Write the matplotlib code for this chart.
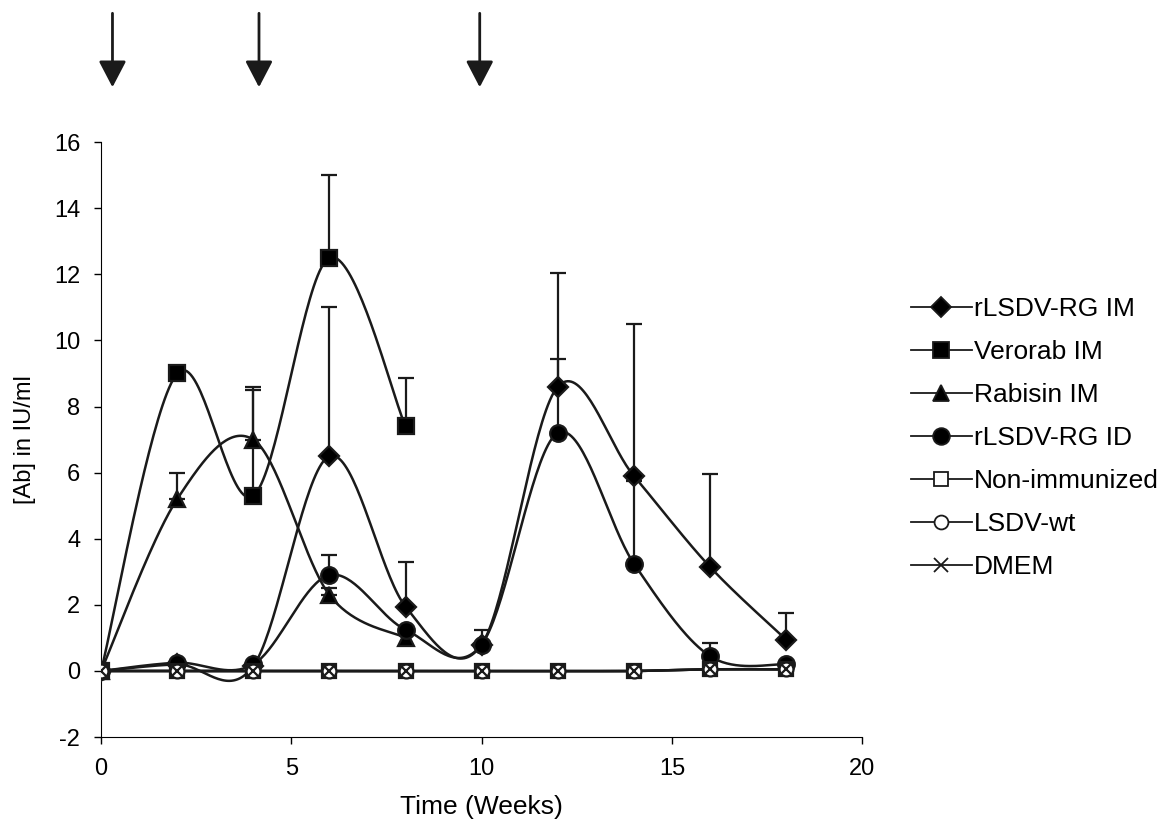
import numpy as np
import matplotlib.pyplot as plt
from matplotlib.patches import FancyArrowPatch

plt.rcParams["font.family"] = ["Liberation Sans", "DejaVu Sans"]
plt.rcParams["axes.unicode_minus"] = False

# Data (weeks vs antibody titre)
weeks = [0, 2, 4, 6, 8, 10, 12, 14, 16, 18]
weeks_short = [0, 2, 4, 6, 8]

rlsdv_im = [0, 0.2, 0.15, 6.5, 1.95, 0.8, 8.6, 5.9, 3.15, 0.95]
rlsdv_im_err = [0, 0, 0, 4.5, 1.35, 0, 3.45, 4.6, 2.8, 0.8]

verorab_im = [0, 9.0, 5.3, 12.5, 7.4]
verorab_im_err = [0, 0, 3.2, 2.5, 1.45]

rabisin_im = [0, 5.2, 7.0, 2.3, 1.0]
rabisin_im_err = [0, 0.8, 1.6, 0.2, 0]

rlsdv_id = [0, 0.25, 0.2, 2.9, 1.25, 0.8, 7.2, 3.25, 0.45, 0.2]
rlsdv_id_err = [0, 0, 0, 0.6, 0, 0.45, 2.25, 2.5, 0.4, 0]

non_immunized = [0, 0, 0, 0, 0, 0, 0, 0, 0.05, 0.05]
lsdv_wt = [0, 0, 0, 0, 0, 0, 0, 0, 0.05, 0.05]
dmem = [0, 0, 0, 0, 0, 0, 0, 0, 0.05, 0.05]

# immunization times (arrows above the plot)
boost_weeks = [0.3, 4.15, 9.95]


def smooth(x, y, n=40):
    """Catmull-Rom curve through the points (like Excel smoothed lines)."""
    p = np.column_stack([x, y]).astype(float)
    p = np.vstack([p[0], p, p[-1]])
    out = []
    t = np.linspace(0, 1, n)[:, None]
    for i in range(1, len(p) - 2):
        p0, p1, p2, p3 = p[i - 1], p[i], p[i + 1], p[i + 2]
        c1 = p1 + (p2 - p0) / 6
        c2 = p2 - (p3 - p1) / 6
        seg = ((1 - t) ** 3) * p1 + 3 * ((1 - t) ** 2) * t * c1 \
            + 3 * (1 - t) * t ** 2 * c2 + t ** 3 * p2
        out.append(seg)
    out = np.vstack(out)
    return out[:, 0], out[:, 1]


fig = plt.figure(figsize=(11.71, 8.31), dpi=100)
ax = fig.add_axes([0.0863, 0.113, 0.650, 0.716])

series = [
    ("rLSDV-RG IM", weeks, rlsdv_im, rlsdv_im_err, "D", "black", 10.5),
    ("Verorab IM", weeks_short, verorab_im, verorab_im_err, "s", "black", 11.5),
    ("Rabisin IM", weeks_short, rabisin_im, rabisin_im_err, "^", "black", 12),
    ("rLSDV-RG ID", weeks, rlsdv_id, rlsdv_id_err, "o", "black", 12),
    ("Non-immunized", weeks, non_immunized, None, "s", "white", 10.5),
    ("LSDV-wt", weeks, lsdv_wt, None, "o", "white", 10),
    ("DMEM", weeks, dmem, None, "x", "black", 10),
]

for label, x, y, err, marker, face, ms in series:
    xs, ys = smooth(x, y)
    ax.plot(xs, ys, color="#1a1a1a", lw=1.8, zorder=2)
    if err is not None:
        xe = [a for a, e in zip(x, err) if e > 0]
        ye = [b for b, e in zip(y, err) if e > 0]
        ee = [e for e in err if e > 0]
        ax.errorbar(xe, ye, yerr=[np.zeros(len(ee)), ee], fmt="none",
                    ecolor="#1a1a1a", elinewidth=1.6, capsize=6,
                    capthick=1.6, zorder=2)
    ax.plot(x, y, linestyle="none", marker=marker, ms=ms,
            markerfacecolor=face, markeredgecolor="#1a1a1a",
            markeredgewidth=1.6, zorder=3)
    # legend proxy
    ax.plot([], [], color="#1a1a1a", lw=1.3, marker=marker, ms=ms,
            markerfacecolor=face, markeredgecolor="#1a1a1a",
            markeredgewidth=1.3, label=label)

ax.set_xlim(0, 20)
ax.set_ylim(-2, 16)
ax.set_xticks([0, 5, 10, 15, 20])
ax.set_yticks(range(-2, 17, 2))
ax.spines["top"].set_visible(False)
ax.spines["right"].set_visible(False)
ax.spines["left"].set_position(("data", 0))
ax.tick_params(direction="out", length=5, width=1, labelsize=17, pad=10)
ax.set_xlabel("Time (Weeks)", fontsize=19)
ax.xaxis.set_label_coords(0.5, -0.097)
ax.set_ylabel("[Ab] in IU/ml", fontsize=17)
ax.yaxis.set_label_coords(-0.085, 0.5)

ax.legend(loc="upper left", bbox_to_anchor=(0.778, 0.642),
          bbox_transform=fig.transFigure, frameon=False, fontsize=19,
          handlelength=2.3, handletextpad=0.1, labelspacing=0.72,
          borderaxespad=0, borderpad=0)

# arrows marking immunizations
for w in boost_weeks:
    xf = fig.transFigure.inverted().transform(ax.transData.transform((w, 0)))[0]
    arr = FancyArrowPatch((xf, 0.984), (xf, 0.895), transform=fig.transFigure,
                          arrowstyle="-|>,head_length=1.15,head_width=0.6",
                          mutation_scale=14, color="#1a1a1a", lw=2.0,
                          shrinkA=0, shrinkB=0)
    fig.add_artist(arr)

fig.savefig("out.png", dpi=100)
